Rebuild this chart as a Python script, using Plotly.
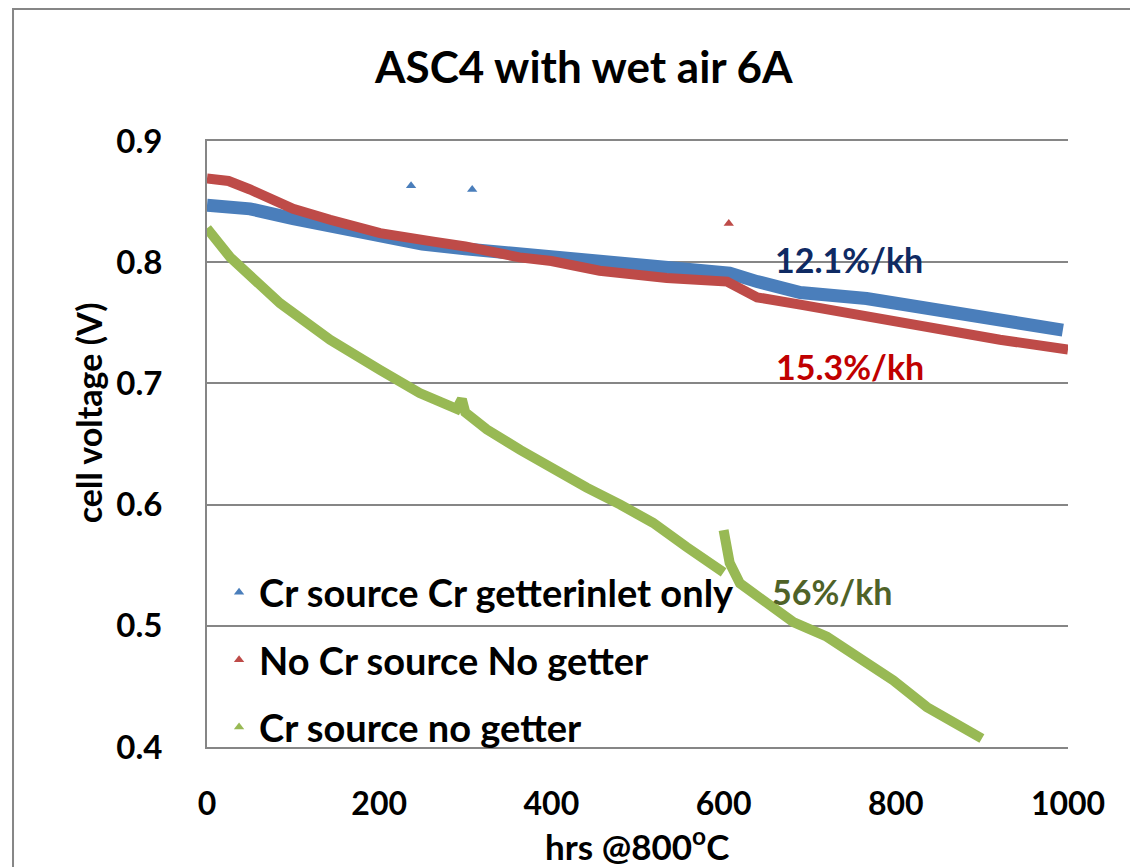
import plotly.graph_objects as go

# cell voltage vs hours
getter_hrs = [0, 25, 50, 100, 150, 200, 250, 300, 350, 400, 456, 500, 534, 560,
              607, 639, 689, 766, 844, 921, 994]
getter_v = [0.847, 0.846, 0.844, 0.836, 0.829, 0.822, 0.815, 0.811, 0.808, 0.805,
            0.800, 0.798, 0.796, 0.794, 0.791, 0.784, 0.775, 0.770, 0.761, 0.752, 0.744]
getter_out_hrs = [237, 308]
getter_out_v = [0.863, 0.860]

nosrc_hrs = [0, 25, 50, 100, 143, 201, 263, 300, 363, 400, 456, 534, 604, 639,
             689, 766, 844, 921, 1000]
nosrc_v = [0.869, 0.867, 0.860, 0.844, 0.835, 0.824, 0.817, 0.813, 0.804, 0.801,
           0.793, 0.787, 0.784, 0.771, 0.765, 0.755, 0.746, 0.736, 0.728]
nosrc_out_hrs = [606]
nosrc_out_v = [0.832]

nogetter_hrs = [0, 27, 85, 143, 201, 247, 290, 296, 300, 325, 364, 402, 441, 480,
                518, 557, 592, 600, None,
                600, 604, 607, 619, 642, 681, 720, 758, 797, 836, 875, 900]
nogetter_v = [0.828, 0.804, 0.766, 0.736, 0.711, 0.692, 0.679, 0.687, 0.676, 0.662,
              0.645, 0.629, 0.614, 0.600, 0.585, 0.565, 0.548, 0.544, None,
              0.579, 0.562, 0.552, 0.535, 0.524, 0.503, 0.491, 0.474, 0.455, 0.433,
              0.417, 0.407]

names = ['Cr source Cr getterinlet only', 'No Cr source No getter', 'Cr source no getter']
colors = ['#4A7EBB', '#BE4B48', '#98B954']
rates = ['12.1%/kh', '15.3%/kh', '56%/kh']
rate_colors = ['#0F2A63', '#C00000', '#4F6228']
rate_pos = [(0.746, 0.802), (0.747, 0.714), (0.726, 0.528)]

grid = '#868686'

fig = go.Figure()
series = [(getter_hrs, getter_v, 13, getter_out_hrs, getter_out_v),
          (nosrc_hrs, nosrc_v, 10, nosrc_out_hrs, nosrc_out_v),
          (nogetter_hrs, nogetter_v, 10, [None], [None])]
for i, (hx, hy, w, ox, oy) in enumerate(series):
    fig.add_trace(go.Scatter(x=hx, y=hy, mode='lines', legendgroup=str(i),
                             showlegend=False, connectgaps=False,
                             line=dict(color=colors[i], width=w)))
    fig.add_trace(go.Scatter(x=ox, y=oy, mode='markers', name=names[i],
                             legendgroup=str(i),
                             marker=dict(symbol='triangle-up', size=9,
                                         color=colors[i])))

for txt, col, (ax, ay) in zip(rates, rate_colors, rate_pos):
    fig.add_annotation(x=ax, y=ay, xref='paper', yref='y', text=txt,
                       xanchor='center', yanchor='middle',
                       showarrow=False, font=dict(size=34, color=col))

# axis titles as annotations so they sit where the original has them
fig.add_annotation(x=-0.138, y=0.551, xref='paper', yref='paper',
                   xanchor='center', yanchor='middle',
                   text='cell voltage (V)', textangle=-90, showarrow=False,
                   font=dict(size=34, color='black'))
fig.add_annotation(x=0.4994, y=-0.16, xref='paper', yref='paper',
                   xanchor='center', yanchor='middle',
                   text='hrs @800<sup>o</sup>C', showarrow=False,
                   font=dict(size=35, color='black'))

# outer chart border
fig.add_shape(type='rect', xref='paper', yref='paper', x0=-0.2253, y0=-0.5,
              x1=1.3, y1=1.2178, line=dict(color=grid, width=2))

fig.update_layout(
    width=1138, height=867,
    margin=dict(l=199, r=78, t=133, b=128),
    plot_bgcolor='white', paper_bgcolor='white',
    font=dict(family='Lato', size=32, color='black', weight='bold'),
    title=dict(text='ASC4 with wet air 6A', x=0.506, xanchor='center',
               y=0.9308, yanchor='middle', font=dict(size=44)),
    legend=dict(x=0.014, y=-0.02, xanchor='left', yanchor='bottom',
                bgcolor='rgba(0,0,0,0)', tracegroupgap=15,
                font=dict(size=38)),
)
fig.update_xaxes(range=[0, 1000], tickvals=[0, 200, 400, 600, 800, 1000],
                 showgrid=False, zeroline=False, showline=True, mirror=True,
                 linecolor=grid, linewidth=2, ticks='outside', ticklen=28,
                 tickcolor='rgba(0,0,0,0)', tickfont=dict(size=32))
fig.update_yaxes(range=[0.4, 0.9], tickvals=[0.4, 0.5, 0.6, 0.7, 0.8, 0.9],
                 tickformat='.1f', showgrid=True, gridcolor=grid, gridwidth=2,
                 zeroline=False, showline=True, linecolor=grid, linewidth=2,
                 ticks='outside', ticklen=36, tickcolor='rgba(0,0,0,0)',
                 tickfont=dict(size=33))

fig.write_html('out.html')
